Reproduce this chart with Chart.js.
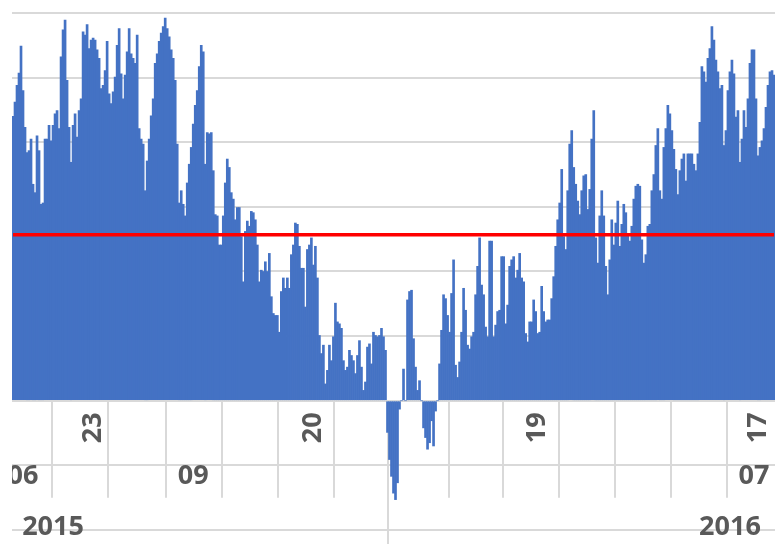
<!DOCTYPE html>
<html>
<head>
<meta charset="utf-8">
<script src="https://cdn.jsdelivr.net/npm/chart.js@4.4.1/dist/chart.umd.min.js"></script>
<style>
  html, body { margin: 0; padding: 0; background: #fff; overflow: hidden; }
  #wrap { width: 775px; height: 544px; position: relative; }
</style>
</head>
<body>
<div id="wrap"><canvas id="chart"></canvas></div>
<script>
// one value per bar from left to right
const barValues = [
  44.0, 46.2, 48.8, 50.7, 54.9, 48.0, 42.3, 38.4, 38.7, 40.5,
  33.5, 32.2, 41.0, 38.7, 30.4, 30.6, 40.5, 40.5, 42.6, 40.2,
  42.6, 44.4, 44.9, 42.1, 53.2, 57.4, 58.9, 49.6, 42.3, 36.9,
  42.6, 44.4, 40.8, 44.9, 46.7, 57.1, 56.6, 58.2, 54.5, 55.8,
  56.1, 55.8, 54.3, 53.0, 48.3, 48.8, 51.1, 55.6, 47.5, 46.0,
  47.8, 50.1, 55.0, 57.6, 50.6, 46.7, 50.4, 54.0, 57.6, 53.7,
  53.0, 52.2, 56.6, 42.1, 40.5, 39.7, 32.5, 37.1, 40.5, 44.1,
  46.7, 52.2, 53.7, 55.6, 56.9, 57.9, 59.2, 57.6, 56.3, 54.3,
  53.0, 49.6, 39.7, 30.6, 32.5, 30.4, 28.6, 33.7, 36.6, 39.2,
  42.8, 45.7, 48.0, 51.7, 55.0, 54.0,
  36.6, 41.5, 41.3, 41.5, 35.6, 28.8, 28.6, 24.1, 24.1, 28.6,
  33.7, 37.4, 36.1, 32.2, 31.2, 28.0, 29.9, 29.9, 25.4, 18.4,
  26.2, 27.8, 27.0, 29.3, 29.1, 28.0, 24.1, 18.4, 20.2, 20.0,
  21.5, 20.0, 22.8, 16.1, 13.5, 13.2, 13.2, 10.6, 16.9, 19.0,
  17.4, 19.0, 17.4, 22.6, 24.1, 27.5, 27.3, 23.9, 20.5, 20.5,
  14.5, 23.4, 24.1, 25.2, 21.0, 23.9, 19.0, 10.1, 7.3, 8.6,
  2.6, 4.7, 8.6, 6.2, 9.9, 15.1, 12.2, 11.9, 11.2, 6.2,
  4.7, 5.2, 7.8, 7.0, 6.2, 4.2, 7.0, 9.3, 5.2, 1.6,
  2.9, 8.3, 8.8, 5.7, 10.6, 10.1, 9.9, 10.1, 11.2, 9.9,
  7.8, -4.9, -9.1, -11.7, -14.3,
  -15.3, -12.7, -1.3, 0, 4.9, 0, 15.6, 16.9, 17.1, 9.6,
  5.2, 1.6, 3.1, 0, -4.2, -5.7, -7.5, -6.5, -3.1, -7.0,
  -1.6, 0, 5.7, 10.9, 16.4, 15.8, 13.2, 10.6, 16.6, 21.8,
  5.5, 3.6, 6.0, 10.6, 17.4, 14.0, 8.6, 8.0, 9.9, 10.6,
  16.4, 20.8, 25.2, 17.9, 16.4, 11.4, 9.9, 24.7, 24.7, 9.9,
  11.7, 13.8, 14.0, 22.3, 22.3, 11.9, 14.8, 20.8, 21.8, 22.3,
  19.0, 20.2, 22.8, 19.0, 18.4, 10.4, 9.1, 12.2, 12.2, 15.6,
  13.8, 10.4, 10.6, 17.7, 13.8, 12.2, 12.5, 12.5, 15.8, 19.2,
  23.9, 28.0, 30.6, 35.8, 25.4, 23.4, 32.5, 39.7, 41.8, 36.1,
  33.5, 30.9, 28.8, 32.5, 34.8,
  35.0, 29.6, 32.7, 40.5, 44.9, 25.2, 21.3, 28.6, 32.5, 28.6,
  20.8, 16.4, 21.8, 28.0, 24.1, 27.5, 30.9, 23.9, 27.3, 30.4,
  29.1, 25.7, 24.7, 27.0, 31.2, 33.2, 33.5, 33.2, 24.9, 21.3,
  22.6, 27.0, 27.3, 32.5, 35.0, 39.5, 42.1, 32.5, 31.2, 39.2,
  42.1, 45.7, 44.4, 41.8, 38.9, 35.8, 31.9, 35.6, 37.4, 38.2,
  34.0, 38.2, 38.2, 38.2, 36.6, 35.6, 38.2, 43.1, 51.7, 50.9,
  49.3, 53.0, 54.5, 57.9, 55.8, 52.7, 50.9, 48.3, 48.8, 39.5,
  41.8, 48.0, 50.9, 52.7, 50.6, 43.9, 44.9, 36.9, 40.5, 44.9,
  42.3, 46.7, 52.2, 54.3, 54.3, 46.7, 37.9, 39.2, 40.2, 42.1,
  45.4, 48.8, 50.9, 51.1, 50.4
];
const averageLevel = 25.7;

// bar index where each month starts, and where the year changes
const monthStarts = [20, 48, 77, 105, 133, 161, 188, 218, 245, 273, 301, 329, 357];
const yearStarts = [188];

// the three label rows under the axis
const dayTickText = ['23', '20', '19', '17'];
const dayTickAt = [40, 150, 262, 372];
const monthText = ['06', '09', '07'];
const monthAt = [5, 90, 370];
const yearText = ['2015', '2016'];
const yearAt = [20, 358];

const labels = barValues.map((v, i) => i);

// draws the multi level category axis (days / months / years)
const axisLevels = {
  id: 'axisLevels',
  beforeDatasetsDraw(chart) {
    const { ctx, chartArea, scales: { x, y } } = chart;
    const half = (x.getPixelForValue(1) - x.getPixelForValue(0)) / 2;
    const zeroY = y.getPixelForValue(0);
    const tickEnd = y.getPixelForValue(-15);

    ctx.save();
    ctx.beginPath();
    ctx.rect(chartArea.left, chartArea.top, chartArea.right - chartArea.left, chartArea.bottom - chartArea.top);
    ctx.clip();

    ctx.strokeStyle = '#d9d9d9';
    ctx.lineWidth = 2;
    monthStarts.forEach(b => {
      const px = Math.round(x.getPixelForValue(b) - half);
      const bottom = yearStarts.includes(b) ? chartArea.bottom : tickEnd;
      ctx.beginPath();
      ctx.moveTo(px, zeroY);
      ctx.lineTo(px, bottom);
      ctx.stroke();
    });

    ctx.fillStyle = '#595959';
    ctx.font = 'bold 27px "Open Sans"';
    ctx.textAlign = 'center';
    ctx.textBaseline = 'middle';
    dayTickText.forEach((t, i) => {
      ctx.save();
      ctx.translate(x.getPixelForValue(dayTickAt[i]), zeroY + 27);
      ctx.rotate(-Math.PI / 2);
      ctx.fillText(t, 0, 0);
      ctx.restore();
    });
    monthText.forEach((t, i) => ctx.fillText(t, x.getPixelForValue(monthAt[i]), zeroY + 76));
    yearText.forEach((t, i) => ctx.fillText(t, x.getPixelForValue(yearAt[i]), zeroY + 127));
    ctx.restore();
  }
};

new Chart(document.getElementById('chart'), {
  data: {
    labels: labels,
    datasets: [
      {
        type: 'line',
        label: 'Average',
        data: barValues.map(() => averageLevel),
        borderColor: '#ff0000',
        borderWidth: 3.5,
        pointRadius: 0,
        order: 0
      },
      {
        type: 'bar',
        label: 'Value',
        data: barValues,
        backgroundColor: '#4472c4',
        barPercentage: 1,
        categoryPercentage: 1,
        order: 1
      }
    ]
  },
  options: {
    responsive: true,
    maintainAspectRatio: false,
    animation: false,
    layout: { padding: { left: 12, top: 13, right: 0, bottom: 0 } },
    plugins: {
      legend: { display: false },
      tooltip: { enabled: false }
    },
    scales: {
      x: { display: false },
      y: {
        min: -22.17,
        max: 60,
        border: { display: false },
        grid: { color: '#d9d9d9', lineWidth: 2, drawTicks: false },
        ticks: { display: false, stepSize: 10, includeBounds: false }
      }
    }
  },
  plugins: [axisLevels]
});
</script>
</body>
</html>
